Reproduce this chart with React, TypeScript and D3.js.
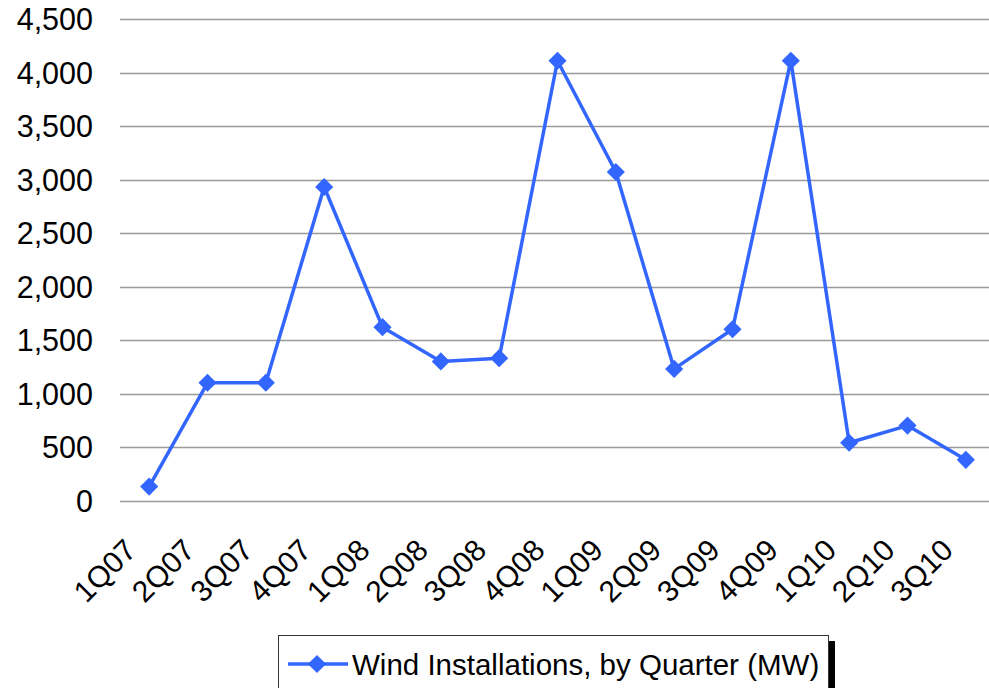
import React, { useEffect, useRef } from "react"
import * as d3 from "d3"

// quarters on the x axis
const quarters = [
  "1Q07", "2Q07", "3Q07", "4Q07",
  "1Q08", "2Q08", "3Q08", "4Q08",
  "1Q09", "2Q09", "3Q09", "4Q09",
  "1Q10", "2Q10", "3Q10",
]
// MW installed per quarter
const windMW = [130, 1100, 1100, 2930, 1620, 1300, 1330, 4110, 3070, 1230, 1600, 4110, 540, 700, 380]
const yTicks = [0, 500, 1000, 1500, 2000, 2500, 3000, 3500, 4000, 4500]
const seriesName = "Wind Installations, by Quarter (MW)"

export default function App() {
  const ref = useRef<SVGSVGElement>(null)

  useEffect(() => {
    const width = 989,
      height = 688
    const lineColor = "#3366ff"
    const font = "'Liberation Sans', Arial, sans-serif"

    const svg = d3.select(ref.current).attr("width", width).attr("height", height)
    svg.selectAll("*").remove()

    const x = d3.scalePoint<string>().domain(quarters).range([120, 995]).padding(0.5)
    const y = d3.scaleLinear().domain([0, 4500]).range([500.5, 19])

    // grid lines
    svg
      .append("g")
      .selectAll("line")
      .data(yTicks)
      .enter()
      .append("line")
      .attr("x1", 120)
      .attr("x2", width)
      .attr("y1", (d) => Math.round(y(d)) + 0.5)
      .attr("y2", (d) => Math.round(y(d)) + 0.5)
      .attr("stroke", "#999")
      .attr("stroke-width", 1.5)

    // y labels
    svg
      .append("g")
      .selectAll("text")
      .data(yTicks)
      .enter()
      .append("text")
      .attr("x", 93)
      .attr("y", (d) => y(d) + 11)
      .attr("text-anchor", "end")
      .attr("font-family", font)
      .attr("font-size", 30.5)
      .attr("fill", "#000")
      .text((d) => d3.format(",")(d))

    // x labels, rotated
    svg
      .append("g")
      .selectAll("text")
      .data(quarters)
      .enter()
      .append("text")
      .attr("transform", (d) => `translate(${x(d)! - 11},${552}) rotate(-45)`)
      .attr("text-anchor", "end")
      .attr("font-family", font)
      .attr("font-size", 30)
      .attr("fill", "#000")
      .text((d) => d)

    const line = d3
      .line<number>()
      .x((d, i) => x(quarters[i])!)
      .y((d) => y(d))

    svg
      .append("path")
      .datum(windMW)
      .attr("d", line)
      .attr("fill", "none")
      .attr("stroke", lineColor)
      .attr("stroke-width", 3.5)
      .attr("stroke-linejoin", "round")

    const diamond = d3.symbol().type(d3.symbolDiamond2).size(210)

    svg
      .append("g")
      .selectAll("path")
      .data(windMW)
      .enter()
      .append("path")
      .attr("d", diamond)
      .attr("transform", (d, i) => `translate(${x(quarters[i])},${y(d)})`)
      .attr("fill", lineColor)

    // legend with shadow
    const legend = svg.append("g")
    legend.append("rect").attr("x", 284).attr("y", 641).attr("width", 551).attr("height", 60).attr("fill", "#000")
    legend
      .append("rect")
      .attr("x", 278.5)
      .attr("y", 635.5)
      .attr("width", 550)
      .attr("height", 60)
      .attr("fill", "#fff")
      .attr("stroke", "#333")
      .attr("stroke-width", 1)
    legend
      .append("line")
      .attr("x1", 288)
      .attr("x2", 348)
      .attr("y1", 664)
      .attr("y2", 664)
      .attr("stroke", lineColor)
      .attr("stroke-width", 3.5)
    legend
      .append("path")
      .attr("d", diamond)
      .attr("transform", "translate(317,664)")
      .attr("fill", lineColor)
    legend
      .append("text")
      .attr("x", 352)
      .attr("y", 675)
      .attr("font-family", font)
      .attr("font-size", 29.5)
      .attr("fill", "#000")
      .text(seriesName)
  }, [])

  return (
    <div style={{ position: "absolute", left: 0, top: 0, width: 989, height: 688, overflow: "hidden", background: "#fff" }}>
      <svg ref={ref} style={{ display: "block" }} />
    </div>
  )
}
